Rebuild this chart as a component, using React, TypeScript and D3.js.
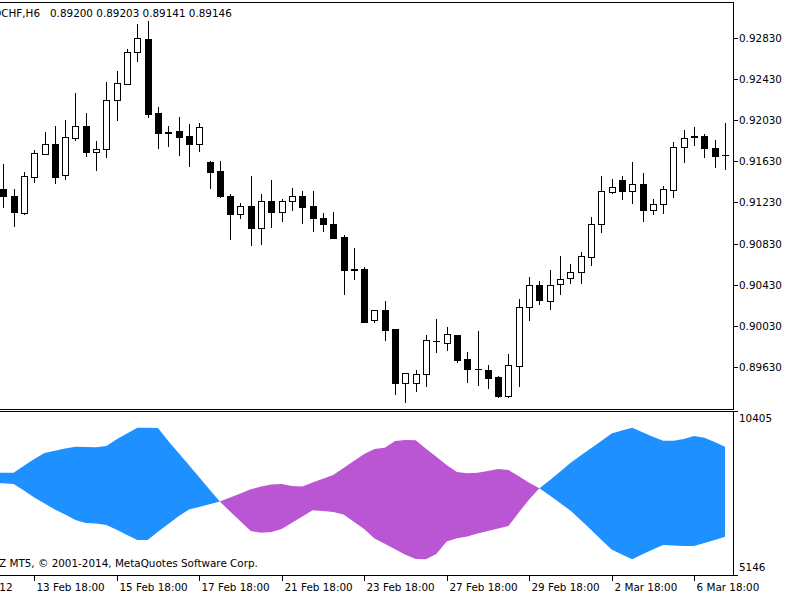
import * as d3 from "d3";

// USDCHF H6 candles, bar 0 is the first visible bar on the left
const opens = [
  0.91358, 0.91296, 0.91131, 0.91481, 0.91704, 0.91798, 0.91494, 0.9186, 0.91973, 0.91718,
  0.91747, 0.92226, 0.92384, 0.9269, 0.92816, 0.921, 0.91908, 0.91925, 0.91876, 0.91795,
  0.91623, 0.91536, 0.91296, 0.91115, 0.91196, 0.90979, 0.91247, 0.9114, 0.91244, 0.91293,
  0.91196, 0.91082, 0.91018, 0.90897, 0.90579, 0.90583, 0.90083, 0.9018, 0.89997, 0.89472,
  0.89472, 0.89563, 0.89886, 0.89864, 0.89945, 0.89706, 0.89611, 0.89602, 0.89531, 0.89349,
  0.89641, 0.90217, 0.90431, 0.90275, 0.90438, 0.90493, 0.90551, 0.90703, 0.91018, 0.91329,
  0.91446, 0.91344, 0.9141, 0.91154, 0.91215, 0.91354, 0.91772, 0.91873, 0.91876, 0.91759,
  0.91694,
];
const highs = [
  0.91601, 0.91361, 0.91523, 0.9174, 0.91915, 0.91976, 0.92029, 0.92291, 0.92097, 0.91828,
  0.92404, 0.92505, 0.92725, 0.92965, 0.92997, 0.92161, 0.91973, 0.92064, 0.9199, 0.92,
  0.9163, 0.91636, 0.91309, 0.91225, 0.91487, 0.91312, 0.91448, 0.91267, 0.91371, 0.91339,
  0.91339, 0.91125, 0.91137, 0.90914, 0.90785, 0.906, 0.9018, 0.90269, 0.89997, 0.89575,
  0.89605, 0.89939, 0.90094, 0.9002, 0.89945, 0.8978, 0.89981, 0.89653, 0.89543, 0.89754,
  0.90295, 0.90506, 0.9047, 0.90571, 0.9071, 0.90632, 0.90746, 0.91086, 0.91484, 0.91458,
  0.91484, 0.91623, 0.91514, 0.91261, 0.91393, 0.91821, 0.91934, 0.91961, 0.91896, 0.91837,
  0.92,
];
const lows = [
  0.91189, 0.91001, 0.91121, 0.91429, 0.91704, 0.91416, 0.91455, 0.91834, 0.91682, 0.91543,
  0.91669, 0.92032, 0.92384, 0.92605, 0.92064, 0.91757, 0.91782, 0.91691, 0.91582, 0.9173,
  0.91368, 0.91286, 0.90878, 0.91076, 0.90814, 0.90826, 0.90989, 0.91053, 0.91157, 0.91028,
  0.90953, 0.90953, 0.90882, 0.9034, 0.90486, 0.90065, 0.90068, 0.8989, 0.89365, 0.89294,
  0.89398, 0.89449, 0.89777, 0.89799, 0.89676, 0.89482, 0.89459, 0.89424, 0.89342, 0.89342,
  0.89446, 0.90088, 0.90238, 0.90197, 0.90337, 0.9045, 0.9045, 0.90625, 0.9094, 0.91322,
  0.91264, 0.91228, 0.91053, 0.91115, 0.91131, 0.9128, 0.9162, 0.91792, 0.91669, 0.91578,
  0.91552,
];
const closes = [
  0.91293, 0.9114, 0.91487, 0.91711, 0.91798, 0.91481, 0.91866, 0.91973, 0.91718, 0.9175,
  0.92226, 0.92388, 0.9269, 0.92826, 0.9209, 0.91908, 0.91915, 0.91869, 0.91795, 0.91964,
  0.91529, 0.91293, 0.91118, 0.91193, 0.90979, 0.91247, 0.9114, 0.91247, 0.91293, 0.91189,
  0.91076, 0.91018, 0.90888, 0.90574, 0.90574, 0.90071, 0.9018, 0.89986, 0.89472, 0.89575,
  0.89566, 0.8989, 0.89881, 0.89952, 0.89696, 0.89611, 0.89608, 0.89524, 0.89349, 0.8965,
  0.90217, 0.90431, 0.90277, 0.90431, 0.90486, 0.90557, 0.9071, 0.91021, 0.91344, 0.91383,
  0.91344, 0.9141, 0.91157, 0.91218, 0.91358, 0.91772, 0.91857, 0.91869, 0.91757, 0.91682,
  0.91691,
];

// indicator buffers, starting one bar before the first visible candle
const indicatorStart = -1;
const lineA = [
  8426, 8426, 8426, 8648, 8866, 9058, 9132, 9206, 9260, 9250, 9241, 9282, 9501, 9687, 9869,
  9869, 9860, 9443, 9058, 8673, 8279, 7891, 7500, 7185, 6868, 6557, 6499, 6525, 6624, 6823,
  7022, 7224, 7198, 7166, 7089, 6855, 6621, 6319, 6146, 5970, 5793, 5659, 5649, 5816, 6223,
  6322, 6380, 6473, 6557, 6637, 6717, 7153, 7567, 7926, 8186, 8458, 8737, 8975, 9209, 9443,
  9683, 9780, 9869, 9722, 9581, 9452, 9452, 9507, 9603, 9549, 9411, 9260,
];
const lineB = [
  8086, 8086, 8064, 7859, 7634, 7438, 7249, 7083, 6909, 6813, 6800, 6749, 6595, 6428, 6268,
  6268, 6534, 6781, 7028, 7246, 7326, 7413, 7500, 7628, 7762, 7897, 7980, 8051, 8061, 8000,
  7987, 8112, 8234, 8352, 8580, 8801, 9026, 9190, 9228, 9443, 9475, 9469, 9196, 8936, 8673,
  8449, 8407, 8423, 8484, 8545, 8516, 8311, 8106, 7926, 7698, 7455, 7214, 6909, 6595, 6278,
  5960, 5800, 5649, 5809, 5966, 6108, 6092, 6076, 6076, 6169, 6271, 6374,
];

const priceTicks = [0.9283, 0.9243, 0.9203, 0.9163, 0.9123, 0.9083, 0.9043, 0.9003, 0.8963];
const indicatorTicks = [10405, 5146];
const timeTickBars = [-5, 3, 11, 19, 27, 35, 43, 51, 59, 67];
const timeTickLabels = [
  "9 Feb 2012", "13 Feb 18:00", "15 Feb 18:00", "17 Feb 18:00", "21 Feb 18:00",
  "23 Feb 18:00", "27 Feb 18:00", "29 Feb 18:00", "2 Mar 18:00", "6 Mar 18:00",
];

const W = 800;
const H = 600;
const right = 733;
const mainTop = 2.5;
const mainBottom = 409.5;
const indTop = 411.5;
const indBottom = 575.5;
const font = "DejaVu Sans";
const fs = 10.4;

const blue = "#1e90ff";
const purple = "#ba55d3";

export default function App() {
  const x = d3.scaleLinear().domain([0, 70]).range([3.3, 725]);
  const y = d3.scaleLinear().domain([0.8963, 0.9283]).range([367, 37.7]);
  const yi = d3.scaleLinear().domain([5146, 10405]).range([575, 411]);

  const ix = (_: number, k: number) => x(k + indicatorStart);
  const areaBelowA = d3.area<number>().x(ix).y0(indBottom + 5).y1((d) => yi(d))(lineA) ?? "";
  const areaBelowB = d3.area<number>().x(ix).y0(indBottom + 5).y1((d) => yi(d))(lineB) ?? "";
  const clipAboveA = d3.area<number>().x(ix).y0(indTop - 5).y1((d) => yi(d))(lineA) ?? "";
  const clipAboveB = d3.area<number>().x(ix).y0(indTop - 5).y1((d) => yi(d))(lineB) ?? "";

  const candles = opens.map((o, i) => {
    const c = closes[i];
    const cx = Math.round(x(i));
    const yo = Math.round(y(o));
    const yc = Math.round(y(c));
    const yh = Math.round(y(highs[i]));
    const yl = Math.round(y(lows[i]));
    const top = Math.min(yo, yc);
    const bot = Math.max(yo, yc);
    const bull = c >= o;
    return (
      <g key={i}>
        <line x1={cx + 0.5} x2={cx + 0.5} y1={yh} y2={yl + 1} stroke="#000" />
        {bot - top < 1 ? (
          <line x1={cx - 3} x2={cx + 4} y1={top + 0.5} y2={top + 0.5} stroke="#000" />
        ) : (
          <rect
            x={cx - 2.5}
            y={top + 0.5}
            width={6}
            height={bot - top}
            fill={bull ? "#fff" : "#000"}
            stroke="#000"
          />
        )}
      </g>
    );
  });

  return (
    <svg
      width={W}
      height={H}
      style={{ position: "absolute", left: 0, top: 0, background: "#fff" }}
      fontFamily={font}
      fontSize={fs}
      shapeRendering="crispEdges"
    >
      <defs>
        <clipPath id="pane">
          <rect x={0} y={indTop} width={right} height={indBottom - indTop} />
        </clipPath>
        <clipPath id="aboveA">
          <path d={clipAboveA} />
        </clipPath>
        <clipPath id="aboveB">
          <path d={clipAboveB} />
        </clipPath>
      </defs>

      {/* main price pane */}
      <g>{candles}</g>
      <line x1={0} x2={right + 0.5} y1={mainTop} y2={mainTop} stroke="#000" />
      <line x1={0} x2={right + 0.5} y1={mainBottom} y2={mainBottom} stroke="#000" />
      <line x1={right + 0.5} x2={right + 0.5} y1={mainTop} y2={mainBottom} stroke="#000" />
      {priceTicks.map((p) => (
        <g key={p}>
          <line x1={right} x2={right + 5} y1={Math.round(y(p)) + 0.5} y2={Math.round(y(p)) + 0.5} stroke="#000" />
          <text x={right + 6} y={Math.round(y(p)) + 4}>{p.toFixed(5)}</text>
        </g>
      ))}
      <text x={40} y={17} textAnchor="end">USDCHF,H6</text>
      <text x={50} y={17}>0.89200 0.89203 0.89141 0.89146</text>

      {/* indicator pane */}
      <g clipPath="url(#pane)" shapeRendering="auto">
        <g clipPath="url(#aboveB)">
          <path d={areaBelowA} fill={blue} />
        </g>
        <g clipPath="url(#aboveA)">
          <path d={areaBelowB} fill={purple} />
        </g>
      </g>
      <line x1={0} x2={right + 0.5} y1={indTop} y2={indTop} stroke="#000" />
      <line x1={0} x2={right + 0.5} y1={indBottom} y2={indBottom} stroke="#000" />
      <line x1={right + 0.5} x2={right + 0.5} y1={indTop} y2={indBottom} stroke="#000" />
      {indicatorTicks.map((v, k) => (
        <g key={v}>
          <line x1={right} x2={right + 5} y1={Math.round(yi(v)) + 0.5} y2={Math.round(yi(v)) + 0.5} stroke="#000" />
          <text x={right + 6} y={k === 0 ? Math.round(yi(v)) + 11 : Math.round(yi(v)) - 4}>{v}</text>
        </g>
      ))}
      <text x={-1} y={567}>Z MT5, © 2001-2014, MetaQuotes Software Corp.</text>

      {/* time axis */}
      {timeTickBars.map((b, k) => {
        const tx = Math.round(x(b)) + 0.5;
        return (
          <g key={b}>
            <line x1={tx} x2={tx} y1={indBottom} y2={indBottom + 5} stroke="#000" />
            <text x={tx + 2} y={591}>{timeTickLabels[k]}</text>
          </g>
        );
      })}
    </svg>
  );
}
